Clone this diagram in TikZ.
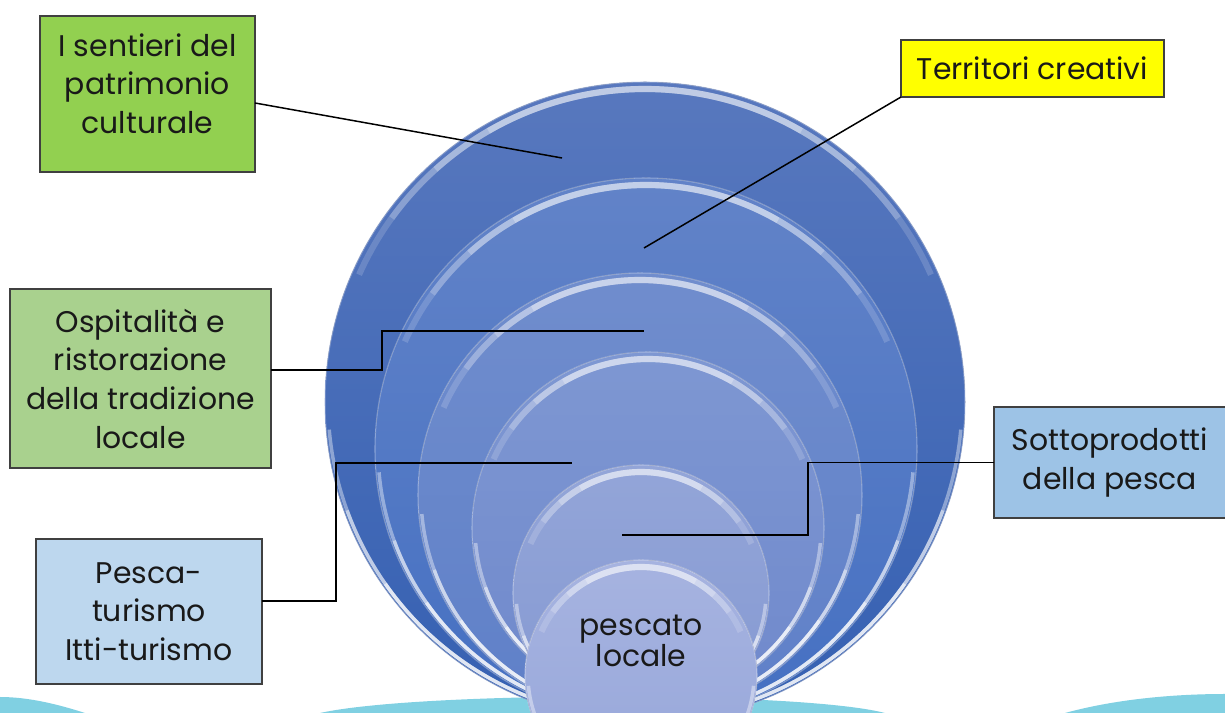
\documentclass[tikz,border=0pt]{standalone}
\usepackage{fontspec}
\setmainfont{Poppins}
\usepackage{xcolor}
\usepackage{tikz}

\definecolor{verdeA}{HTML}{92D050}
\definecolor{verdeB}{HTML}{A9D18E}
\definecolor{azzurroA}{HTML}{BDD7EE}
\definecolor{azzurroB}{HTML}{9DC3E6}
\definecolor{giallo}{HTML}{FFFF00}
\definecolor{onda}{HTML}{80D0E2}
\definecolor{cerchioAa}{HTML}{5878BE}
\definecolor{cerchioAb}{HTML}{3560B2}
\definecolor{cerchioBa}{HTML}{6283C8}
\definecolor{cerchioBb}{HTML}{4570C2}
\definecolor{cerchioCa}{HTML}{708DCD}
\definecolor{cerchioCb}{HTML}{5F80C8}
\definecolor{cerchioDa}{HTML}{7E97D2}
\definecolor{cerchioDb}{HTML}{7089CC}
\definecolor{cerchioEa}{HTML}{93A5D8}
\definecolor{cerchioEb}{HTML}{8599D2}
\definecolor{cerchioFa}{HTML}{A6B3E0}
\definecolor{cerchioFb}{HTML}{97A7DA}

\tikzset{
  casella/.style={draw=black!75, line width=0.8pt, align=center, inner sep=2pt,
    outer sep=0pt, font=\fontsize{17}{22}\selectfont, text=black!90},
  filo/.style={draw=black, line width=0.85pt},
}

\begin{document}
\begin{tikzpicture}[x=0.02cm,y=0.02cm]
\useasboundingbox (0,0) rectangle (1225,713);
\clip (0,0) rectangle (1225,713);
% onde sullo sfondo
\fill[onda] (0,0) -- (0,16) .. controls (30,16) and (60,8) .. (85,0) -- cycle;
\fill[onda] (320,0) .. controls (420,22) and (800,22) .. (885,0) -- cycle;
\fill[onda] (1065,0) .. controls (1120,15) and (1180,19) .. (1225,19) -- (1225,0) -- cycle;
% cerchi
\foreach \cx/\cy/\r/\ca/\cb in {645/311/320/cerchioAa/cerchioAb, 646/264/271/cerchioBa/cerchioBb,
  640/218/222/cerchioCa/cerchioCb, 648/185/176/cerchioDa/cerchioDb,
  641/120/128/cerchioEa/cerchioEb, 641/37/116/cerchioFa/cerchioFb}{
  \pgfmathsetmacro\rin{\r-7}
  \pgfmathsetmacro\rbo{\r-3}
  \fill[top color=\ca, bottom color=\cb] (\cx,\cy) circle (\r);
  \draw[draw=\ca!50!white, opacity=.6, line width=.6pt] (\cx,\cy) circle (\r);
  \foreach \a/\op in {66/.16, 54/.2, 42/.24, 30/.26}
    \draw[white, opacity=\op, line width=3.5pt] ([shift={(\cx,\cy)}]90+\a:\rin) arc (90+\a:90-\a:\rin);
  \foreach \a/\op in {85/.4, 70/.45, 55/.55}
    \draw[white, opacity=\op, line width=2pt] ([shift={(\cx,\cy)}]270-\a:\rbo) arc (270-\a:270+\a:\rbo);
}
% caselle
\node[casella, fill=verdeA, minimum width=4.3cm, minimum height=3.12cm] (sentieri) at (147.5,619) {I sentieri del\\patrimonio\\culturale\\[-0.35cm]\mbox{}};
\node[casella, fill=giallo, minimum width=5.26cm, minimum height=1.14cm] (territori) at (1032.5,644.5) {Territori creativi};
\node[casella, fill=verdeB, minimum width=5.22cm, minimum height=3.58cm] (ospitalita) at (140.5,334.5) {Ospitalità e\\ristorazione\\della tradizione\\locale};
\node[casella, fill=azzurroA, minimum width=4.52cm, minimum height=2.9cm] (pesca) at (149,101.5) {Pesca-\\turismo\\Itti-turismo};
\node[casella, fill=azzurroB, minimum width=4.64cm, minimum height=2.22cm] (sottoprodotti) at (1110,250.5) {Sottoprodotti\\della pesca};
\node[font=\fontsize{17}{16}\selectfont, align=center, text=black!90] (pescato) at (641,72) {pescato\\locale};
% collegamenti
\coordinate (fineS) at (562,555);
\coordinate (fineT) at (644,465);
\coordinate (gomitoO) at (382,382);
\coordinate (fineO) at (644,382);
\coordinate (gomitoP) at (336,250);
\coordinate (fineP) at (572,250);
\coordinate (gomitoSo) at (808,178);
\coordinate (fineSo) at (622,178);
\draw[filo] ([yshift=-0.18cm]sentieri.east) -- (fineS);
\draw[filo] (territori.south west) -- (fineT);
\draw[filo] ([yshift=0.17cm]ospitalita.east) -| (gomitoO) -- (fineO);
\draw[filo] ([yshift=0.21cm]pesca.east) -| (gomitoP) -- (fineP);
\draw[filo] (sottoprodotti.west) -| (gomitoSo) -- (fineSo);
\end{tikzpicture}
\end{document}
